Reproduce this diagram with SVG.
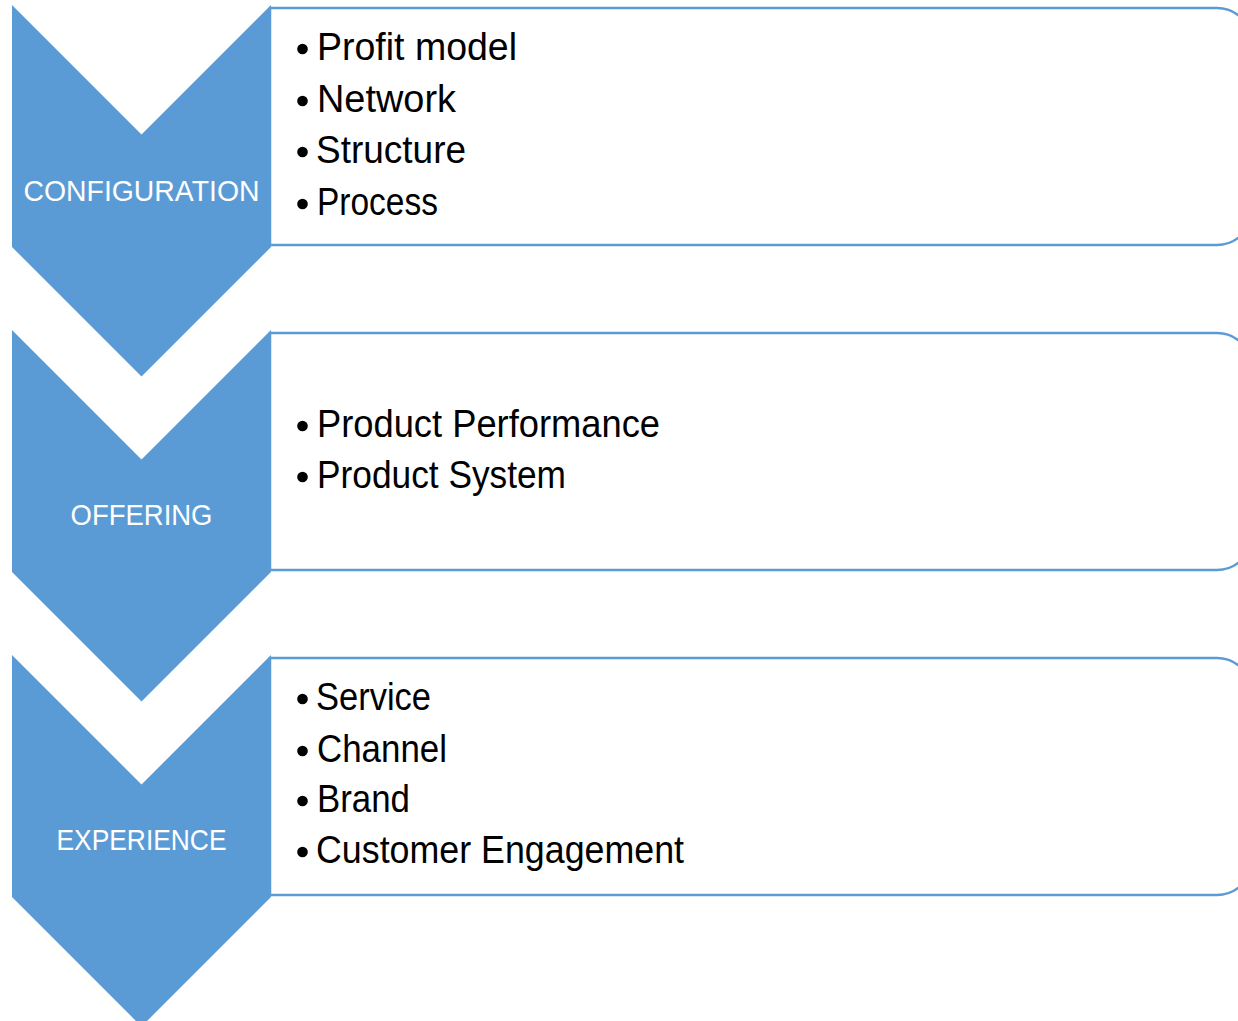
<svg xmlns="http://www.w3.org/2000/svg" width="1238" height="1021" viewBox="0 0 1238 1021">
  <style>
    .card { fill: #ffffff; stroke: #5B9BD5; stroke-width: 2.5; }
    .chev { fill: #5B9BD5; }
    .label { font-family: "Liberation Sans", Arial, sans-serif; font-size: 29px; fill: #ffffff; text-anchor: middle; }
    .item { font-family: "Liberation Sans", Arial, sans-serif; font-size: 38px; fill: #000000; }
    .dot { fill: #000000; }
  </style>
  <defs>
    <!-- card with square left corners and rounded right corners -->
    <path id="card" d="M270,0 H1217 A35,35 0 0 1 1252,35 V202 A35,35 0 0 1 1217,237 H270 Z"/>
    <!-- downward chevron -->
    <polygon id="chevron" points="12,0 141.5,129.5 271,0 271,242 141.5,371.5 12,242"/>
  </defs>

  <g id="connectors"></g>

  <!-- Stage 1 -->
  <g id="configuration">
    <use href="#card" class="card" transform="translate(0,8)"/>
    <use href="#chevron" class="chev" transform="translate(0,5)"/>
    <text class="label" x="141.5" y="201" textLength="236" lengthAdjust="spacingAndGlyphs">CONFIGURATION</text>
    <circle class="dot" cx="302.5" cy="49" r="5.3"/>
    <text class="item" x="317" y="60" textLength="200" lengthAdjust="spacingAndGlyphs">Profit model</text>
    <circle class="dot" cx="302.5" cy="101" r="5.3"/>
    <text class="item" x="317" y="112" textLength="139" lengthAdjust="spacingAndGlyphs">Network</text>
    <circle class="dot" cx="302.5" cy="152" r="5.3"/>
    <text class="item" x="316" y="163" textLength="150" lengthAdjust="spacingAndGlyphs">Structure</text>
    <circle class="dot" cx="302.5" cy="204" r="5.3"/>
    <text class="item" x="317" y="215" textLength="121" lengthAdjust="spacingAndGlyphs">Process</text>
  </g>

  <!-- Stage 2 -->
  <g id="offering">
    <use href="#card" class="card" transform="translate(0,333)"/>
    <use href="#chevron" class="chev" transform="translate(0,330)"/>
    <text class="label" x="141.5" y="525" textLength="142" lengthAdjust="spacingAndGlyphs">OFFERING</text>
    <circle class="dot" cx="302.5" cy="426" r="5.3"/>
    <text class="item" x="317" y="437" textLength="343" lengthAdjust="spacingAndGlyphs">Product Performance</text>
    <circle class="dot" cx="302.5" cy="477" r="5.3"/>
    <text class="item" x="317" y="488" textLength="249" lengthAdjust="spacingAndGlyphs">Product System</text>
  </g>

  <!-- Stage 3 -->
  <g id="experience">
    <use href="#card" class="card" transform="translate(0,658)"/>
    <use href="#chevron" class="chev" transform="translate(0,655)"/>
    <text class="label" x="141.5" y="850" textLength="170" lengthAdjust="spacingAndGlyphs">EXPERIENCE</text>
    <circle class="dot" cx="302.5" cy="699" r="5.3"/>
    <text class="item" x="316" y="710" textLength="115" lengthAdjust="spacingAndGlyphs">Service</text>
    <circle class="dot" cx="302.5" cy="751" r="5.3"/>
    <text class="item" x="317" y="762" textLength="130" lengthAdjust="spacingAndGlyphs">Channel</text>
    <circle class="dot" cx="302.5" cy="801" r="5.3"/>
    <text class="item" x="317" y="812" textLength="93" lengthAdjust="spacingAndGlyphs">Brand</text>
    <circle class="dot" cx="302.5" cy="852" r="5.3"/>
    <text class="item" x="316" y="863" textLength="368" lengthAdjust="spacingAndGlyphs">Customer Engagement</text>
  </g>
</svg>
